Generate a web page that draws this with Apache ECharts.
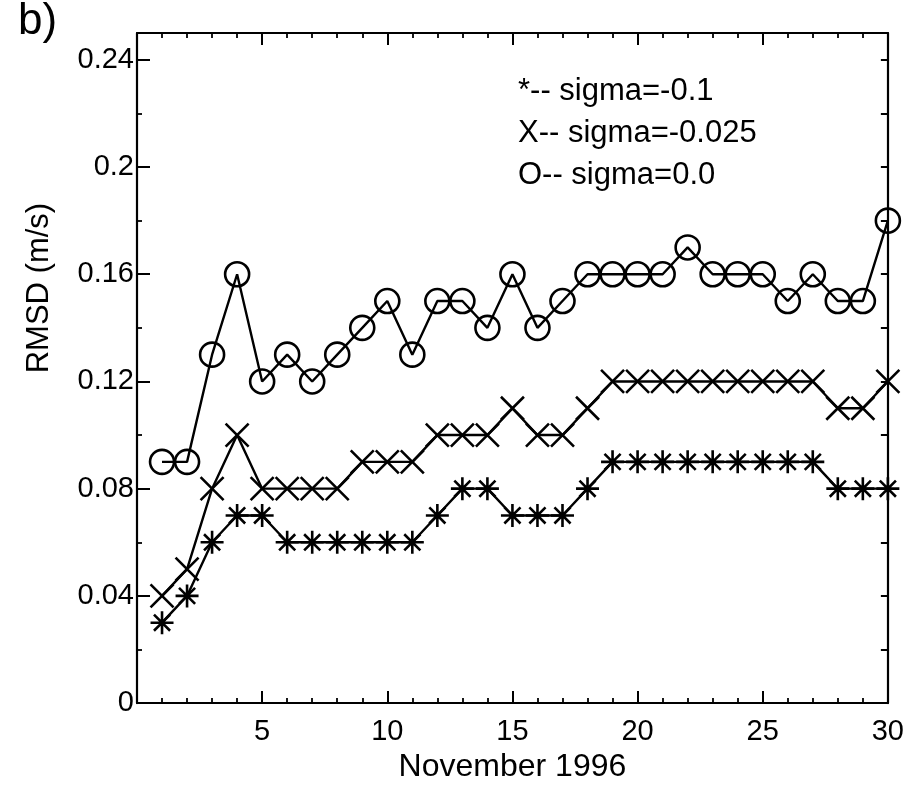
<!DOCTYPE html>
<html>
<head>
<meta charset="utf-8">
<script src="https://cdn.jsdelivr.net/npm/echarts@6/dist/echarts.min.js"></script>
<style>
html, body { margin: 0; padding: 0; background: #fff; }
#main { width: 907px; height: 788px; }
</style>
</head>
<body>
<div id="main"></div>
<script>
// days of November 1996
const days = [1, 2, 3, 4, 5, 6, 7, 8, 9, 10, 11, 12, 13, 14, 15,
              16, 17, 18, 19, 20, 21, 22, 23, 24, 25, 26, 27, 28, 29, 30];

// RMSD (m/s) for each sigma
const rmsdSigmaM01 = [0.03, 0.04, 0.06, 0.07, 0.07, 0.06, 0.06, 0.06, 0.06, 0.06,
                      0.06, 0.07, 0.08, 0.08, 0.07, 0.07, 0.07, 0.08, 0.09, 0.09,
                      0.09, 0.09, 0.09, 0.09, 0.09, 0.09, 0.09, 0.08, 0.08, 0.08];
const rmsdSigmaM0025 = [0.04, 0.05, 0.08, 0.10, 0.08, 0.08, 0.08, 0.08, 0.09, 0.09,
                        0.09, 0.10, 0.10, 0.10, 0.11, 0.10, 0.10, 0.11, 0.12, 0.12,
                        0.12, 0.12, 0.12, 0.12, 0.12, 0.12, 0.12, 0.11, 0.11, 0.12];
const rmsdSigma00 = [0.09, 0.09, 0.13, 0.16, 0.12, 0.13, 0.12, 0.13, 0.14, 0.15,
                     0.13, 0.15, 0.15, 0.14, 0.16, 0.14, 0.15, 0.16, 0.16, 0.16,
                     0.16, 0.17, 0.16, 0.16, 0.16, 0.15, 0.16, 0.15, 0.15, 0.18];

const seriesNames = ['*-- sigma=-0.1', 'X-- sigma=-0.025', 'O-- sigma=0.0'];

const FONT = 'Liberation Sans, Arial, sans-serif';

// marker shapes
const crossSymbol = 'path://M0,0L10,10M10,0L0,10';
const starSymbol = 'path://M0,5L10,5M5,0L5,10M1.5,1.5L8.5,8.5M8.5,1.5L1.5,8.5';

function pairs(values) {
    return days.map(function (d, i) { return [d, values[i]]; });
}

function makeSeries(name, values, symbol, size) {
    return {
        name: name,
        type: 'line',
        data: pairs(values),
        symbol: symbol,
        symbolSize: size,
        symbolKeepAspect: true,
        showAllSymbol: true,
        lineStyle: { color: '#000', width: 2.4 },
        itemStyle: { color: 'transparent', borderColor: '#000', borderWidth: 2.6 },
        emphasis: { disabled: true }
    };
}

// frame axes: line stays on its own side (no onZero)
function frameLine() {
    return { show: true, onZero: false, lineStyle: { color: '#000', width: 2.2 } };
}

let chart = echarts.init(document.getElementById('main'));
let option = {
    animation: false,
    backgroundColor: '#fff',
    textStyle: { fontFamily: FONT },
    title: {
        text: 'b)',
        left: 13,
        top: -5,
        textStyle: { fontFamily: FONT, fontSize: 44, fontWeight: 'normal', color: '#000' }
    },
    grid: { left: 137, top: 33, right: 18, bottom: 83 },
    legend: {
        data: seriesNames,
        orient: 'vertical',
        left: 508,
        top: 71,
        icon: 'none',
        itemWidth: 0,
        itemHeight: 30,
        itemGap: 11,
        selectedMode: false,
        textStyle: { fontFamily: FONT, fontSize: 31, color: '#000' }
    },
    xAxis: [
        {
            type: 'value',
            position: 'bottom',
            min: 0,
            max: 30,
            interval: 5,
            axisLine: frameLine(),
            splitLine: { show: false },
            axisTick: { inside: true, length: 12, lineStyle: { color: '#000', width: 2 } },
            minorTick: { show: true, splitNumber: 5, length: 5, lineStyle: { color: '#000', width: 1.8 } },
            axisLabel: {
                color: '#000', fontSize: 29, margin: 14,
                formatter: function (v) { return v === 0 ? '' : v; }
            },
            name: 'November 1996',
            nameLocation: 'middle',
            nameGap: 47,
            nameTextStyle: { color: '#000', fontSize: 32 }
        },
        {
            type: 'value',
            position: 'top',
            min: 0,
            max: 30,
            interval: 5,
            axisLine: frameLine(),
            splitLine: { show: false },
            axisTick: { inside: true, length: 12, lineStyle: { color: '#000', width: 2 } },
            minorTick: { show: true, splitNumber: 5, length: 5, lineStyle: { color: '#000', width: 1.8 } },
            axisLabel: { show: false }
        }
    ],
    yAxis: [
        {
            type: 'value',
            position: 'left',
            min: 0,
            max: 0.25,
            interval: 0.04,
            axisLine: frameLine(),
            splitLine: { show: false },
            axisTick: { inside: true, length: 13, lineStyle: { color: '#000', width: 2 } },
            minorTick: { show: true, splitNumber: 2, length: 5, lineStyle: { color: '#000', width: 1.8 } },
            axisLabel: { color: '#000', fontSize: 29, margin: 3, showMaxLabel: false },
            name: 'RMSD (m/s)',
            nameLocation: 'middle',
            nameGap: 82,
            nameTextStyle: { color: '#000', fontSize: 31, padding: [0, 0, 0, 160] }
        },
        {
            type: 'value',
            position: 'right',
            min: 0,
            max: 0.25,
            interval: 0.02,
            axisLine: frameLine(),
            splitLine: { show: false },
            axisTick: { inside: true, length: 7, lineStyle: { color: '#000', width: 2 } },
            axisLabel: { show: false }
        }
    ],
    series: [
        makeSeries(seriesNames[2], rmsdSigma00, 'circle', 24),
        makeSeries(seriesNames[1], rmsdSigmaM0025, crossSymbol, 23),
        makeSeries(seriesNames[0], rmsdSigmaM01, starSymbol, 23)
    ]
};

if (option && typeof option === "object") {
    chart.setOption(option, true);
}
</script>
</body>
</html>
